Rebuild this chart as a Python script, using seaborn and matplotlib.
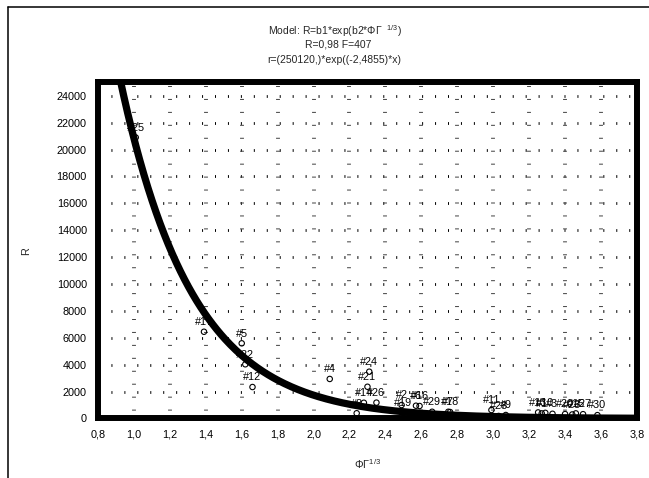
import numpy as np
import pandas as pd
import matplotlib
matplotlib.use("Agg")
import matplotlib.pyplot as plt
import seaborn as sns
from matplotlib.lines import Line2D
from matplotlib.ticker import FixedLocator, FuncFormatter

# case numbers with their (PhiGamma^(1/3), R) values
case_ids = [1, 2, 3, 4, 5, 6, 7, 8, 9, 10,
            11, 12, 13, 14, 15, 16, 17, 18, 19, 20,
            21, 22, 23, 24, 25, 26, 27, 28, 29, 30]
phi_gamma = [3.27, 2.49, 3.33, 2.09, 1.60, 2.57, 2.75, 2.24, 3.07, 3.29,
             2.99, 1.66, 3.25, 2.28, 3.46, 2.59, 1.39, 2.76, 2.50, 3.40,
             2.30, 1.62, 3.44, 2.31, 1.01, 2.35, 3.50, 3.03, 2.66, 3.58]
r_values = [380, 1000, 350, 2940, 5590, 950, 500, 390, 260, 420,
            630, 2340, 450, 1170, 380, 930, 6450, 480, 410, 330,
            2360, 4030, 300, 3480, 20900, 1180, 320, 190, 500, 250]

# fitted model r = b1*exp(b2*x)
b1 = 250120.0
b2 = -2.4855

x_ticks = [0.8, 1.0, 1.2, 1.4, 1.6, 1.8, 2.0, 2.2, 2.4, 2.6, 2.8, 3.0, 3.2, 3.4, 3.6, 3.8]
y_ticks = [0, 2000, 4000, 6000, 8000, 10000, 12000, 14000, 16000, 18000, 20000, 22000, 24000]


def main():
    sns.set_style("white")
    plt.rcParams['font.family'] = ['Liberation Sans', 'DejaVu Sans']
    plt.rcParams['mathtext.fontset'] = 'custom'
    plt.rcParams['mathtext.rm'] = 'Liberation Sans'
    plt.rcParams['mathtext.it'] = 'Liberation Sans'
    plt.rcParams['mathtext.default'] = 'regular'
    plt.rcParams['lines.scale_dashes'] = False

    df = pd.DataFrame({'case': case_ids, 'x': phi_gamma, 'r': r_values})

    fig = plt.figure(figsize=(6.49, 4.78), dpi=100)
    ax = fig.add_axes([0.151, 0.1245, 0.8304, 0.7033])

    # sparse dotted grid like the original
    for yv in y_ticks[1:]:
        ax.axhline(yv, color='black', lw=2.0, linestyle=(0, (0.72, 8.6)), zorder=1)
    for xv in x_ticks[1:-1]:
        ax.axvline(xv, color='#444444', lw=2.8, linestyle=(4.0, (0.72, 8.6)), zorder=1)

    sns.scatterplot(data=df, x='x', y='r', ax=ax, marker='o', s=15,
                    facecolor='none', edgecolor='black', linewidth=0.8, zorder=3)

    for cid, xv, rv in zip(case_ids, phi_gamma, r_values):
        ax.annotate(f"#{cid}", (xv, rv), xytext=(0, 7),
                    textcoords='offset points', ha='center', va='center',
                    fontsize=7.8, color='black', zorder=3)

    xs = np.linspace(0.8, 3.8, 400)
    sns.lineplot(x=xs, y=b1 * np.exp(b2 * xs), ax=ax, color='black', lw=5.2, zorder=4)

    ax.set_xlim(0.8, 3.8)
    ax.set_ylim(0, 25000)
    ax.xaxis.set_major_locator(FixedLocator(x_ticks))
    ax.yaxis.set_major_locator(FixedLocator(y_ticks))
    ax.xaxis.set_major_formatter(FuncFormatter(lambda v, p: f"{v:.1f}".replace('.', ',')))
    ax.yaxis.set_major_formatter(FuncFormatter(lambda v, p: f"{v:.0f}"))
    ax.tick_params(axis='both', length=0, pad=8, labelsize=7.8, colors='black')

    for side in ax.spines.values():
        side.set_linewidth(4.3)
        side.set_color('black')
        side.set_zorder(5)

    ax.set_xlabel(r"ΦΓ$^{1/3}$", fontsize=7.8)
    ax.set_ylabel("R", fontsize=7.8)
    ax.xaxis.set_label_coords(0.5, -0.1145)
    ax.yaxis.set_label_coords(-0.124, 0.498)

    fig.text(0.516, 0.934, r"Model: R=b1*exp(b2*ΦΓ  $^{1/3}$)", ha='center', va='center', fontsize=7.5)
    fig.text(0.521, 0.906, "R=0,98 F=407", ha='center', va='center', fontsize=7.5)
    fig.text(0.515, 0.874, "r=(250120,)*exp((-2,4855)*x)", ha='center', va='center', fontsize=7.5)

    # outer frame lines at top and left edges
    fig.add_artist(Line2D([8 / 649, 1], [1 - 7 / 478, 1 - 7 / 478], color='black', lw=1.1,
                          transform=fig.transFigure))
    fig.add_artist(Line2D([8 / 649, 8 / 649], [0, 1 - 7 / 478], color='black', lw=1.1,
                          transform=fig.transFigure))

    fig.savefig('out.png', dpi=100)
    plt.close(fig)


if __name__ == "__main__":
    main()
